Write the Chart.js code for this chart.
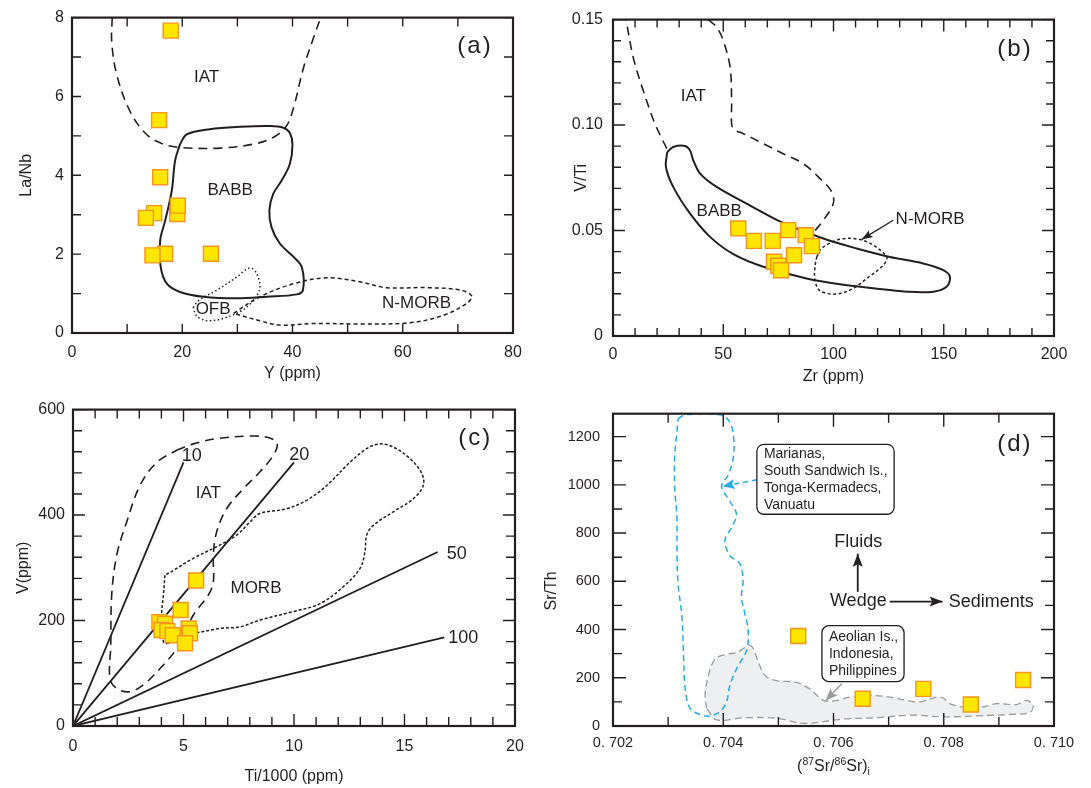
<!DOCTYPE html>
<html><head><meta charset="utf-8">
<script src="https://cdn.jsdelivr.net/npm/chart.js@4.4.1/dist/chart.umd.min.js"></script>
<style>
html,body{margin:0;padding:0;background:#fff;}
#wrap{position:relative;width:1091px;height:788px;overflow:hidden;background:#fff;}
canvas{position:absolute;}
</style></head><body>
<div id="wrap">
<canvas id="ca" width="545" height="392" style="left:0;top:0"></canvas>
<canvas id="cb" width="546" height="392" style="left:545px;top:0"></canvas>
<canvas id="cc" width="545" height="396" style="left:0;top:392px"></canvas>
<canvas id="cd" width="561" height="396" style="left:530px;top:392px"></canvas>
</div>
<script>
// ---------------- DATA ----------------
// (a) La/Nb vs Y
const aY    = [17.9, 15.8, 16.0, 19.1, 19.2, 14.9, 13.4, 16.9, 14.6, 25.2];
const aLaNb = [7.67, 5.40, 3.95, 3.02, 3.23, 3.04, 2.92, 2.01, 1.97, 2.01];
const aIAT  = [[7.3,8],[7.2,7.4],[8.1,6.56],[10.5,5.63],[13.5,5.04],[16.6,4.79],[20.2,4.70],[26.9,4.69],[32.9,4.79],[36.5,4.96],[38.9,5.25],[40.2,5.72],[42.0,6.73],[43.8,7.48],[45.1,8.0]];
const aBABB = [[19.6,4.79],[20.8,5.04],[25.0,5.17],[30.5,5.23],[35.9,5.25],[38.3,5.21],[39.5,5.08],[40.0,4.79],[39.5,4.28],[38.0,3.86],[36.5,3.53],[35.8,3.11],[36.2,2.68],[37.7,2.27],[40.2,1.93],[41.7,1.67],[41.9,1.09],[40.8,0.98],[35.3,0.92],[29.9,0.88],[23.8,0.92],[19.6,1.04],[17.2,1.25],[16.1,1.67],[16.0,2.35],[16.9,2.85],[18.1,3.61],[18.7,4.37],[19.6,4.79]];
const aOFB  = [[22.0,0.66],[22.6,0.43],[24.7,0.31],[28.1,0.40],[31.7,0.66],[34.0,1.09],[33.5,1.51],[32.2,1.65],[29.9,1.42],[26.3,1.09],[23.2,0.85],[22.0,0.66]];
const aNMORB= [[29.3,0.50],[34.1,0.92],[40.2,1.25],[46.2,1.40],[52.2,1.30],[57.1,1.15],[64.3,1.15],[70.4,1.09],[72.5,0.94],[71.6,0.75],[67.4,0.45],[61.3,0.26],[52.2,0.23],[43.8,0.24],[37.7,0.20],[34.1,0.31],[30.5,0.45],[29.3,0.50]];
const aXTicks = [0,20,40,60,80];
const aYTicks = [0,2,4,6,8];

// (b) V/Ti vs Zr
const bZr  = [56.8, 63.9, 72.4, 79.5, 87.4, 90.2, 82.1, 73.0, 75.0, 76.2];
const bVTi = [0.0510, 0.0451, 0.0451, 0.0502, 0.0478, 0.0426, 0.0383, 0.0352, 0.0333, 0.0312];
const bIATleft  = [[24.4,0.0888],[19.0,0.1007],[13.7,0.1164],[9.2,0.132],[5.9,0.150]];
const bIATright = [[43.2,0.150],[47.0,0.1464],[50.0,0.1401],[53.1,0.1274],[53.8,0.1117],[53.8,0.1005],[55.0,0.0978],[59.1,0.0959],[68.2,0.0912],[77.2,0.0864],[86.3,0.0817],[93.9,0.0746],[99.2,0.0683],[99.9,0.0628],[95.4,0.0549],[91.2,0.0494]];
const bBABB = [[24.6,0.0872],[27.3,0.0896],[32.7,0.0901],[34.9,0.0880],[36.4,0.0833],[39.5,0.0770],[47.0,0.0707],[60.6,0.0628],[77.2,0.0536],[95.4,0.0462],[110.5,0.0415],[125.6,0.0375],[140.7,0.0344],[149.8,0.0312],[152.8,0.0281],[151.3,0.0233],[145.3,0.0210],[133.2,0.0210],[118.1,0.0226],[102.9,0.0245],[87.8,0.0273],[68.2,0.0328],[54.6,0.0388],[44.0,0.0470],[34.9,0.0581],[27.3,0.0707],[24.0,0.0801],[24.6,0.0872]];
const bNMORB = [[92.4,0.0375],[94.6,0.0415],[101.4,0.0454],[109.0,0.0462],[116.6,0.0439],[124.1,0.0375],[122.6,0.0336],[115.1,0.0273],[109.0,0.0226],[101.4,0.0199],[93.9,0.0214],[91.6,0.0265],[91.6,0.0328],[92.4,0.0375]];
const bArrow = [[127.1,0.0549],[112.8,0.0458]];
const bXTicks = [0,50,100,150,200];
const bYTicks = [0,0.05,0.10,0.15];
const bYLabels = ['0','0.05','0.10','0.15'];

// (c) V vs Ti/1000
const cTi = [5.57, 4.87, 3.91, 4.16, 4.01, 4.27, 4.51, 5.23, 5.29, 5.07];
const cV  = [276, 220, 197, 194, 182, 180, 172, 185, 176, 157];
const cR10  = [[0,0],[5.0,500]];
const cR20  = [[0,0],[10.0,500]];
const cR50  = [[0,0],[16.5,330]];
const cR100 = [[0,0],[16.8,168]];
const cIAT = [[4.69,523],[5.44,535],[6.5,545],[8.16,550],[8.91,546],[9.24,535],[9.06,513],[8.46,482],[7.71,450],[6.95,412],[6.5,368],[6.35,324],[6.35,273],[6.12,248],[5.44,210],[4.69,147],[3.94,109],[3.18,78],[2.58,65],[1.98,71],[1.67,90],[1.71,153],[1.75,248],[1.98,324],[2.43,387],[3.03,456],[3.79,500],[4.69,523]];
const cMORB = [[4.16,286],[4.09,248],[4.01,210],[4.09,160],[4.31,157],[4.54,172],[5.6,177],[6.65,185],[7.56,188],[8.46,201],[9.97,217],[11.18,232],[12.23,264],[12.99,299],[13.21,330],[13.29,362],[13.6,381],[14.49,406],[15.4,431],[15.85,456],[15.78,479],[15.25,507],[14.49,529],[13.89,535],[13.29,526],[12.53,500],[11.48,456],[10.57,428],[9.67,412],[8.46,403],[8.01,387],[7.41,362],[6.5,340],[5.44,318],[4.54,295],[4.16,286]];
const cXTicks = [0,5,10,15,20];
const cYTicks = [0,200,400,600];

// (d) Sr/Th vs 87Sr/86Sr
const dSr   = [0.70536, 0.70653, 0.70763, 0.70849, 0.70944];
const dSrTh = [373, 113, 154, 89, 191];
const dBlue = [[0.70318,1274],[0.70331,1291],[0.70394,1291],[0.70412,1260],[0.70419,1192],[0.70418,1110],[0.70409,1041],[0.70397,994],[0.70412,932],[0.70424,878],[0.70415,823],[0.70403,769],[0.70412,707],[0.70430,673],[0.70436,605],[0.70433,536],[0.70439,468],[0.70445,400],[0.70443,318],[0.70424,236],[0.70412,168],[0.70406,100],[0.70394,59],[0.70376,42],[0.70361,45],[0.70340,72],[0.70331,154],[0.70328,291],[0.70325,455],[0.70318,591],[0.70316,728],[0.70316,864],[0.70312,987],[0.70312,1123],[0.70316,1219],[0.70318,1274]];
const dGray = [[0.70370,72],[0.70367,127],[0.70373,209],[0.70385,277],[0.70406,298],[0.70424,304],[0.70439,325],[0.70449,334],[0.70455,318],[0.70464,263],[0.70476,209],[0.70497,188],[0.70533,181],[0.70557,154],[0.70582,106],[0.70606,106],[0.70630,120],[0.70666,127],[0.70702,120],[0.70733,106],[0.70757,100],[0.70787,120],[0.70799,116],[0.70811,93],[0.70835,79],[0.70872,79],[0.70896,93],[0.70932,89],[0.70950,106],[0.70962,86],[0.70956,56],[0.70920,48],[0.70860,42],[0.70799,38],[0.70739,45],[0.70678,34],[0.70618,29],[0.70545,11],[0.70497,32],[0.70436,34],[0.70388,25],[0.70370,72]];
const dBlueArrow = [[0.70461,1021],[0.70399,994]];
const dGrayArrow = [[0.70615,175],[0.70586,106]];
const dFluidArrow = [[0.70644,557],[0.70644,714]];
const dSedArrow = [[0.70702,516],[0.70798,516]];
const dXTicks = [0.702,0.704,0.706,0.708,0.710];
const dXLabels = ['0. 702','0. 704','0. 706','0. 708','0. 710'];
const dYTicks = [0,200,400,600,800,1000,1200];

// ---------------- HELPERS ----------------
const FONT = '"Liberation Sans", Arial, Helvetica, sans-serif';
const INK = '#231f20';
const YEL = '#ffe600', ORA = '#f7941d';
const BLUE = '#29abe2', GRAYL = '#9b9b9b', GRAYF = '#eeeff0';

const xy = (xs, ys) => xs.map((v,i)=>({x:v, y:ys[i]}));
const pts = arr => arr.map(p=>({x:p[0], y:p[1]}));

function samples(xs, ys){
  return {data: xy(xs,ys), showLine:false, pointStyle:'rect', pointRadius:10.6,
    pointBackgroundColor:YEL, pointBorderColor:ORA, pointBorderWidth:1.4};
}
function field(arr, color, width, dash, extra){
  return Object.assign({data: pts(arr), showLine:true, pointRadius:0, borderColor:color,
    borderWidth:width, borderDash:dash||[], tension:0.35, fill:false}, extra||{});
}

function scaleCfg(c){
  return {
    x: {type:'linear', min:c.xmin, max:c.xmax,
      afterBuildTicks: s => { s.ticks = c.xt.map(v=>({value:v})); },
      afterFit: s => { s.height = c.xh; },
      ticks:{autoSkip:false, maxRotation:0, minRotation:0, padding:c.xpad, color:INK,
        font:{family:FONT, size:c.tf}, callback:(v,i)=>c.xl[i]},
      grid:{display:false, drawTicks:false}, border:{display:false},
      title:{display:!!c.xtitle, text:c.xtitle||'', color:INK, font:{family:FONT, size:16},
        padding:{top:0, bottom:c.xtpad||0}}},
    y: {type:'linear', min:c.ymin, max:c.ymax,
      afterBuildTicks: s => { s.ticks = c.yt.map(v=>({value:v})); },
      afterFit: s => { s.width = c.yw; },
      ticks:{autoSkip:false, padding:c.ypad, color:INK, font:{family:FONT, size:c.tf},
        callback:(v,i)=>c.yl[i]},
      grid:{display:false, drawTicks:false}, border:{display:false},
      title:{display:!!c.ytitle, text:c.ytitle||'', color:INK, font:{family:FONT, size:16},
        padding:{top:c.ytpad, bottom:0}}}
  };
}

function drawHead(ctx, x0, y0, x1, y1, len, wid, color){
  const a = Math.atan2(y1-y0, x1-x0);
  ctx.save();
  ctx.translate(x1, y1); ctx.rotate(a);
  ctx.fillStyle = color;
  ctx.beginPath(); ctx.moveTo(0,0); ctx.lineTo(-len, wid/2); ctx.lineTo(-len*0.8, 0); ctx.lineTo(-len, -wid/2); ctx.closePath();
  ctx.fill();
  ctx.restore();
}

function overlay(c){
  return {
    id:'overlay',
    afterDatasetsDraw(chart){
      const {ctx, chartArea:a, scales:{x,y}} = chart;
      ctx.save();
      // arrow heads
      chart.data.datasets.forEach((ds,i)=>{
        if(!ds.head) return;
        const m = chart.getDatasetMeta(i).data;
        const p0 = m[m.length-2], p1 = m[m.length-1];
        drawHead(ctx, p0.x, p0.y, p1.x, p1.y, ds.head[0], ds.head[1], ds.head[2]);
      });
      // boxes
      (c.boxes||[]).forEach(b=>{
        const x1 = x.getPixelForValue(b.x1), x2 = x.getPixelForValue(b.x2);
        const y1 = y.getPixelForValue(b.y1), y2 = y.getPixelForValue(b.y2);
        ctx.beginPath(); ctx.roundRect(x1, y1, x2-x1, y2-y1, 7);
        ctx.fillStyle = '#fff'; ctx.fill();
        ctx.strokeStyle = INK; ctx.lineWidth = 1.3; ctx.setLineDash([]); ctx.stroke();
        ctx.fillStyle = INK; ctx.font = `14px ${FONT}`; ctx.textAlign='left'; ctx.textBaseline='middle';
        b.lines.forEach((t,k)=> ctx.fillText(t, x1+7, y1+b.dy0+k*17));
      });
      // texts
      (c.texts||[]).forEach(t=>{
        ctx.font = `${t.s||17}px ${FONT}`;
        ctx.fillStyle = INK; ctx.textAlign = 'center'; ctx.textBaseline = 'middle';
        ctx.letterSpacing = (t.ls||0) + 'px';
        ctx.fillText(t.t, x.getPixelForValue(t.x), y.getPixelForValue(t.y));
      });
      ctx.letterSpacing = '0px';
      // ticks (inward, all four sides)
      ctx.strokeStyle = INK; ctx.lineWidth = 1.4; ctx.setLineDash([]);
      ctx.beginPath();
      const nx = Math.round((x.max-x.min)/c.xm + 1e-6);
      for(let i=0;i<=nx;i++){
        const v = x.min + i*c.xm;
        const major = c.xt.some(t=>Math.abs(t-v) < c.xm*0.01);
        const L = major ? c.ML : c.mL;
        const px = x.getPixelForValue(v);
        ctx.moveTo(px, a.bottom); ctx.lineTo(px, a.bottom-L);
        ctx.moveTo(px, a.top); ctx.lineTo(px, a.top+L);
      }
      const ny = Math.floor((y.max-y.min)/c.ym + 1e-6);
      for(let i=0;i<=ny;i++){
        const v = y.min + i*c.ym;
        const major = c.yt.some(t=>Math.abs(t-v) < c.ym*0.01);
        const L = major ? c.ML : c.mL;
        const py = y.getPixelForValue(v);
        ctx.moveTo(a.left, py); ctx.lineTo(a.left+L, py);
        ctx.moveTo(a.right, py); ctx.lineTo(a.right-L, py);
      }
      ctx.stroke();
      ctx.lineWidth = 2.2;
      ctx.strokeRect(a.left, a.top, a.width, a.height);
      // custom rotated y title
      if (c.yTitleCustom){
        const t = c.yTitleCustom;
        ctx.save();
        ctx.translate(t.px, y.getPixelForValue(t.y));
        ctx.rotate(-Math.PI/2);
        ctx.font = `16px ${FONT}`; ctx.fillStyle = INK; ctx.textAlign='center'; ctx.textBaseline='middle';
        ctx.fillText(t.t, 0, 0);
        ctx.restore();
      }
      // custom x title
      if (c.srTitle){
        const parts = [['(',16,0],['87',10.5,-6],['Sr/',16,0],['86',10.5,-6],['Sr)',16,0],['i',10.5,4]];
        let w = 0;
        parts.forEach(p=>{ ctx.font = `${p[1]}px ${FONT}`; p.push(ctx.measureText(p[0]).width); w += p[3]; });
        let px = (a.left+a.right)/2 - w/2;
        const base = a.bottom + 45;
        ctx.fillStyle = INK; ctx.textAlign='left'; ctx.textBaseline='alphabetic';
        parts.forEach(p=>{ ctx.font = `${p[1]}px ${FONT}`; ctx.fillText(p[0], px, base + p[2]); px += p[3]; });
      }
      ctx.restore();
    }
  };
}

function make(id, c, datasets){
  return new Chart(document.getElementById(id), {
    type:'scatter',
    data:{datasets},
    options:{
      responsive:false, animation:false, events:[],
      layout:{padding:{top:c.pt, right:c.pr, left:0, bottom:0}},
      plugins:{legend:{display:false}, tooltip:{enabled:false}},
      scales: scaleCfg(c)
    },
    plugins:[overlay(c)]
  });
}

// ---------------- CHARTS ----------------
make('ca', {xmin:0,xmax:80,ymin:0,ymax:8, xt:aXTicks, xl:aXTicks.map(String), yt:aYTicks, yl:aYTicks.map(String),
  xm:10, ym:1, ML:9, mL:9, tf:16, xh:59, yw:72, pt:16, pr:32, xpad:10, ypad:8,
  xtitle:'Y (ppm)', xtpad:9, ytitle:'La/Nb', ytpad:17,
  texts:[{t:'IAT',x:24.4,y:6.49},{t:'BABB',x:28.7,y:3.61},{t:'OFB',x:25.6,y:0.6},{t:'N-MORB',x:62.5,y:0.75},{t:'(a)',x:73.1,y:7.27,s:24,ls:2}]},
  [ samples(aY, aLaNb),
    field(aIAT, INK, 1.6, [9,6]),
    field(aBABB, INK, 2, []),
    field(aOFB, INK, 1.5, [1.5,2.5]),
    field(aNMORB, INK, 1.5, [4,3]) ]);

make('cb', {xmin:0,xmax:200,ymin:0,ymax:0.15, xt:bXTicks, xl:bXTicks.map(String), yt:bYTicks, yl:bYLabels,
  xm:10, ym:0.01, ML:12, mL:8, tf:16, xh:56, yw:68, pt:19, pr:37, xpad:9, ypad:10,
  xtitle:'Zr (ppm)', xtpad:6, ytitle:'V/Ti', ytpad:27,
  texts:[{t:'IAT',x:36.4,y:0.1136},{t:'BABB',x:48.2,y:0.0593},{t:'N-MORB',x:143.8,y:0.0554},{t:'(b)',x:182.3,y:0.136,s:24,ls:2}]},
  [ samples(bZr, bVTi),
    field(bArrow, INK, 1.3, [], {tension:0, head:[11,8,INK]}),
    field(bIATleft, INK, 1.6, [9,6]),
    field(bIATright, INK, 1.6, [9,6]),
    field(bBABB, INK, 2, []),
    field(bNMORB, INK, 1.5, [3,2.5]) ]);

make('cc', {xmin:0,xmax:20,ymin:0,ymax:600, xt:cXTicks, xl:cXTicks.map(String), yt:cYTicks, yl:cYTicks.map(String),
  xm:1, ym:40, ML:12, mL:9, tf:16, xh:62, yw:73, pt:17, pr:30, xpad:11, ypad:8,
  xtitle:'Ti/1000 (ppm)', xtpad:2, ytitle:'V(ppm)', ytpad:14,
  texts:[{t:'10',x:5.37,y:512,s:18},{t:'20',x:10.24,y:513,s:18},{t:'50',x:17.36,y:326,s:18},{t:'100',x:17.66,y:166,s:18},
         {t:'IAT',x:6.12,y:442},{t:'MORB',x:8.28,y:261},{t:'(c)',x:18.2,y:545,s:24,ls:2}]},
  [ samples(cTi, cV),
    field(cR10, INK, 1.8, [], {tension:0}),
    field(cR20, INK, 1.8, [], {tension:0}),
    field(cR50, INK, 1.8, [], {tension:0}),
    field(cR100, INK, 1.8, [], {tension:0}),
    field(cIAT, INK, 1.6, [9,6]),
    field(cMORB, INK, 1.5, [3,2]) ]);

make('cd', {xmin:0.702,xmax:0.710,ymin:0,ymax:1295, xt:dXTicks, xl:dXLabels, yt:dYTicks, yl:dYTicks.map(String),
  xm:0.001, ym:100, ML:13, mL:9, tf:14.5, xh:62, yw:83, pt:18, pr:37, xpad:8, ypad:13,
  xtitle:'', ytitle:'', srTitle:true, yTitleCustom:{t:'Sr/Th', px:22, y:560},
  boxes:[{x1:0.70461,y1:1168,x2:0.70710,y2:878,dy0:10,lines:['Marianas,','South Sandwich Is.,','Tonga-Kermadecs,','Vanuatu']},
         {x1:0.70579,y1:416,x2:0.70728,y2:184,dy0:11,lines:['Aeolian Is.,','Indonesia,','Philippines']}],
  texts:[{t:'Fluids',x:0.70645,y:764,s:18},{t:'Wedge',x:0.70645,y:520,s:18},{t:'Sediments',x:0.70886,y:513,s:18},{t:'(d)',x:0.70929,y:1167,s:24,ls:2}]},
  [ samples(dSr, dSrTh),
    field(dFluidArrow, INK, 1.8, [], {tension:0, head:[13,10,INK]}),
    field(dSedArrow, INK, 1.8, [], {tension:0, head:[13,10,INK]}),
    field(dBlueArrow, BLUE, 1.5, [5,4], {tension:0, head:[12,10,BLUE]}),
    field(dGrayArrow, GRAYL, 1.5, [], {tension:0, head:[12,10,GRAYL]}),
    field(dBlue, BLUE, 1.5, [6,4]),
    field(dGray, GRAYL, 1.3, [7,4], {fill:'shape', backgroundColor:GRAYF}) ]);
</script>
</body></html>
